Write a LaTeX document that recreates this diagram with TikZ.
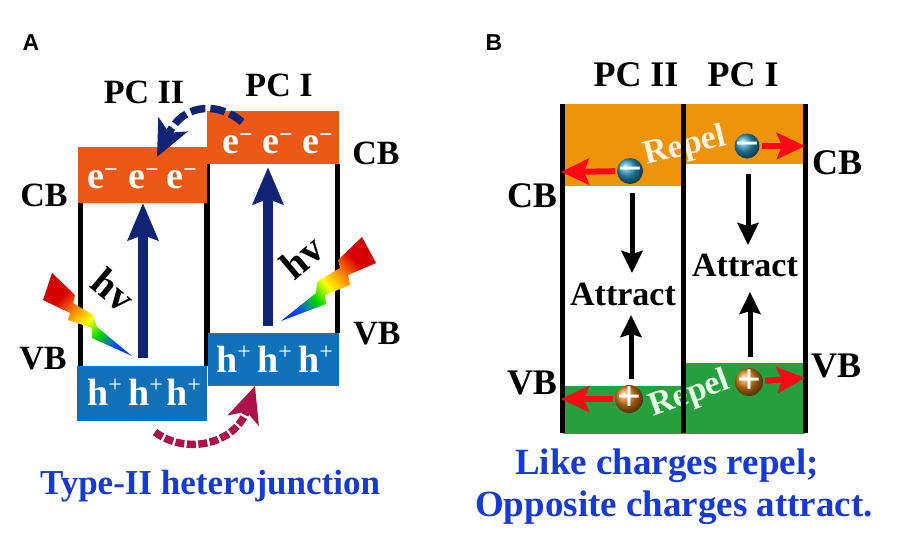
\documentclass[tikz,border=0pt]{standalone}
\usepackage{fontspec}
\setmainfont{Liberation Serif}
\newfontfamily\panelfont{Liberation Sans}
\usetikzlibrary{arrows.meta}

\definecolor{bandOrange}{RGB}{236,88,22}
\definecolor{bandBlue}{RGB}{16,112,184}
\definecolor{bandAmber}{RGB}{238,148,10}
\definecolor{bandGreen}{RGB}{38,160,62}
\definecolor{arrowNavy}{RGB}{16,36,118}
\definecolor{arrowMaroon}{RGB}{172,18,72}
\definecolor{titleBlue}{RGB}{22,58,210}
\definecolor{repelRed}{RGB}{250,10,20}
\definecolor{ionBlue}{RGB}{40,150,195}
\definecolor{ionBrown}{RGB}{215,125,25}

\pgfdeclarehorizontalshading{boltshade}{100bp}{
  color(0bp)=(red!75!black);
  color(32bp)=(red!85!black);
  color(43bp)=(orange!90!yellow);
  color(53bp)=(yellow);
  color(63bp)=(green!85!black);
  color(74bp)=(blue!70!cyan);
  color(100bp)=(blue!80!black)}

\newcommand{\minusCarrier}{e\raisebox{11pt}{\fontsize{24}{24}\selectfont −}}
\newcommand{\plusCarrier}{h\raisebox{13pt}{\fontsize{24}{24}\mdseries\selectfont +}}
\newcommand{\ionSign}[1]{\raisebox{-0.27em}[0pt][0pt]{#1}}

\tikzset{
  lab/.style={font=\fontsize{34}{40}\bfseries\selectfont, inner sep=0pt},
  labB/.style={font=\fontsize{36}{40}\bfseries\selectfont, inner sep=0pt},
  hvlab/.style={font=\fontsize{40}{44}\bfseries\selectfont, inner sep=0pt},
  carrier/.style={font=\fontsize{38}{44}\bfseries\selectfont, text=white, inner sep=0pt, anchor=base west},
  headlineA/.style={font=\fontsize{35}{40}\bfseries\selectfont, text=titleBlue, inner sep=0pt},
  headlineB/.style={font=\fontsize{37}{40}\bfseries\selectfont, text=titleBlue, inner sep=0pt},
  panel/.style={font=\panelfont\fontsize{23}{26}\bfseries\selectfont, inner sep=0pt},
  wall/.style={line width=5pt},
  light/.style={line width=9.5pt, arrowNavy, -{Stealth[length=37pt,width=30pt,inset=5pt]}},
  hop/.style={line width=7.5pt, dash pattern=on 15pt off 5pt, -{Stealth[length=36pt,width=32pt,inset=9pt]}},
  repelarrow/.style={line width=6pt, repelRed, shorten <=2pt, -{Stealth[length=28pt,width=26pt,inset=5pt]}},
  attractarrow/.style={line width=5pt, -{Stealth[length=22pt,width=21pt,inset=3pt]}},
  ion/.style={circle, minimum size=28pt, inner sep=0pt, text=white, font=\fontsize{42}{42}\bfseries\selectfont}
}

\begin{document}
\begin{tikzpicture}[x=1pt, y=-1pt]
        \useasboundingbox (0,0) rectangle (901,541);

        % --- PANEL A ---
        \node[panel] (lblA) at (31,43) {A};
        \node[lab] (pc2A) at (144,92) {PC II};
        \node[lab] (pc1A) at (279,85) {PC I};
        \node[lab] (cbLA) at (44,195) {CB};
        \node[lab] (cbRA) at (376,153) {CB};
        \node[lab] (vbLA) at (43,359) {VB};
        \node[lab] (vbRA) at (377,334) {VB};

        % walls
        \draw[wall] (80,202) -- (80,366);
        \draw[wall] (206,202) -- (206,366);
        \draw[wall] (207,164) -- (207,333);
        \draw[wall] (337,164) -- (337,333);

        % bands
        \fill[bandOrange] (78,147) rectangle (207,203);
        \fill[bandOrange] (207,111) rectangle (339,164);
        \fill[bandBlue] (77,366) rectangle (207,421);
        \fill[bandBlue] (208,333) rectangle (339,386);

        % carriers
        \foreach \x/\n in {87/a,128/b,166/c}{
            \node[carrier] (eL\n) at (\x,188) {\minusCarrier};
            \node[carrier] (hL\n) at (\x,405) {\plusCarrier};
        }
        \foreach \x/\n in {222/a,262/b,302/c}
            \node[carrier] (eR\n) at (\x,153) {\minusCarrier};
        \foreach \x/\n in {216/a,257/b,298/c}
            \node[carrier] (hR\n) at (\x,372) {\plusCarrier};

        % excitation
        \coordinate (exLfrom) at (143,358);
        \coordinate (exLto) at (143,203);
        \coordinate (exRfrom) at (268,326);
        \coordinate (exRto) at (268,167);
        \draw[light] (exLfrom) -- (exLto);
        \draw[light] (exRfrom) -- (exRto);
        \node[hvlab, rotate=-40] (hvL) at (113,290) {hv};
        \node[hvlab, rotate=40] (hvR) at (302,257) {hv};

        % bolts
        \shade[shading=boltshade, shading angle=-45] (52,273) -- (75,295) -- (73,303) -- (93,315) -- (97,327) -- (132,356)
            -- (92,338) -- (92,328) -- (68,320) -- (70,313) -- (43,300) -- cycle;
        \shade[shading=boltshade, shading angle=222] (362,237) -- (338,260) -- (340,268) -- (317,282) -- (316,293) -- (281,321)
            -- (326,304) -- (325,295) -- (350,285) -- (348,275) -- (376,263) -- cycle;

        % transfer
        \coordinate (hopEfrom) at (242,122);
        \coordinate (hopEto) at (157,157);
        \coordinate (hopHfrom) at (155,432);
        \coordinate (hopHto) at (255,386);
        \draw[hop, arrowNavy] (hopEfrom) .. controls (222,104) and (185,100) .. (hopEto);
        \draw[hop, arrowMaroon, dash pattern=on 9pt off 2.5pt] (hopHfrom) .. controls (185,455) and (235,445) .. (hopHto);

        \node[headlineA] (titleA) at (210,486) {Type-II heterojunction};

        % --- PANEL B ---
        \node[panel] (lblB) at (494,43) {B};
        \node[labB] (pc2B) at (636,75) {PC II};
        \node[labB] (pc1B) at (743,75) {PC I};
        \node[labB] (cbLB) at (532,196) {CB};
        \node[labB] (cbRB) at (837,163) {CB};
        \node[labB] (vbLB) at (532,383) {VB};
        \node[labB] (vbRB) at (836,366) {VB};

        % bands
        \fill[bandAmber] (563,104) rectangle (683,186);
        \fill[bandAmber] (683,104) rectangle (805,164);
        \fill[bandGreen] (563,386) rectangle (683,434);
        \fill[bandGreen] (683,363) rectangle (805,434);

        \node[lab, rotate=14, text=orange!12] (repelT) at (685,147) {Repel};
        \node[lab, rotate=20, text=green!10] (repelB) at (690,395) {Repel};

        % walls
        \foreach \x in {562,683,805}
            \draw[wall] (\x,104) -- (\x,433);

        % charges
        \node[ion, ball color=ionBlue, minimum size=26pt] (minusL) at (630,171) {\ionSign{−}};
        \node[ion, ball color=ionBlue, minimum size=25pt] (minusR) at (747,146) {\ionSign{−}};
        \node[ion, ball color=ionBrown] (plusL) at (629,399) {\ionSign{+}};
        \node[ion, ball color=ionBrown] (plusR) at (749,382) {\ionSign{+}};

        \coordinate (wallTL) at (561,172);
        \coordinate (wallTR) at (805,146);
        \coordinate (wallBL) at (561,399);
        \coordinate (wallBR) at (805,378);
        \draw[repelarrow] (minusL) -- (wallTL);
        \draw[repelarrow] (minusR) -- (wallTR);
        \draw[repelarrow] (plusL) -- (wallBL);
        \draw[repelarrow] (plusR) -- (wallBR);

        % attraction
        \node[lab] (attrL) at (623,294) {Attract};
        \node[lab] (attrR) at (745,265) {Attract};
        \coordinate (dnLfrom) at (632,193);
        \coordinate (dnLto) at (632,273);
        \coordinate (dnRfrom) at (748,174);
        \coordinate (dnRto) at (748,245);
        \coordinate (upLfrom) at (631,379);
        \coordinate (upLto) at (631,315);
        \coordinate (upRfrom) at (750,357);
        \coordinate (upRto) at (750,292);
        \draw[attractarrow] (dnLfrom) -- (dnLto);
        \draw[attractarrow] (dnRfrom) -- (dnRto);
        \draw[attractarrow] (upLfrom) -- (upLto);
        \draw[attractarrow] (upRfrom) -- (upRto);

        \node[headlineB] (titleB1) at (667,466) {Like charges repel;};
        \node[headlineB] (titleB2) at (674,508) {Opposite charges attract.};

    \end{tikzpicture}
\end{document}
